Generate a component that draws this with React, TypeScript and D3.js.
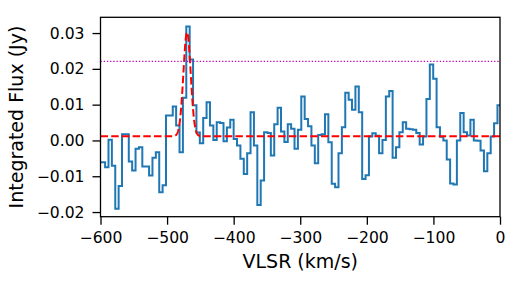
import React, { useEffect, useRef } from "react";
import * as d3 from "d3";

// spectrum: channel centres start at vStart, spaced chanWidth km/s
const vStart = -600.7;
const chanWidth = 5.08;
const flux = [
  -0.0061, -0.0061, -0.0075, 0.0002, -0.0071, -0.0191, -0.0127, 0.0017, 0.0017, -0.0059,
  -0.0084, -0.0023, -0.0019, -0.0073, -0.0073, -0.0098, -0.0048, -0.0033, -0.0145, -0.0125,
  0.0070, 0.0070, 0.0095, 0.0042, -0.0033, 0.0119, 0.0318, 0.0226, 0.0098, 0.0022,
  -0.0008, 0.0063, 0.0107, 0.0042, 0.0001, 0.0051, 0.0049, -0.0002, 0.0036, 0.0058,
  0.0004, -0.0014, -0.0051, -0.0094, -0.0036, 0.0079, -0.0014, -0.0180, -0.0112, 0.0023,
  0.0021, -0.0042, 0.0045, 0.0091, 0.0025, -0.0004, 0.0045, 0.0033, -0.0023, 0.0030,
  0.0123, 0.0060, 0.0040, -0.0014, -0.0064, 0.0015, 0.0017, 0.0073, -0.0005, -0.0121,
  -0.0131, -0.0036, 0.0037, 0.0133, 0.0114, 0.0086, 0.0151, 0.0079, -0.0108, -0.0097,
  0.0011, 0.0020, 0.0013, -0.0036, 0.0001, 0.0123, 0.0138, -0.0048, -0.0019, 0.0023,
  0.0051, 0.0033, 0.0031, 0.0030, 0.0021, -0.0011, 0.0011, 0.0116, 0.0212, 0.0172,
  0.0037, 0.0010, 0.0000, -0.0053, -0.0120, -0.0123, 0.0000, 0.0077, 0.0023, 0.0014,
  0.0058, 0.0000, -0.0001, -0.0028, -0.0086, -0.0036, 0.0011, 0.0048, 0.0098,
];

// gaussian fit (red dashed) and detection threshold (magenta dotted)
const baseline = 0.0012;
const gaussAmp = 0.029;
const gaussCenter = -470;
const gaussSigma = 5.5;
const threshold = 0.0221;

const xTicks = [-600, -500, -400, -300, -200, -100, 0];
const yTicks = [-0.02, -0.01, 0, 0.01, 0.02, 0.03];
const xDomain = [-600, 0];
const yDomain = [-0.0213, 0.0344];

const W = 517, H = 281;
const margin = { top: 17.3, right: 17, bottom: 64.3, left: 100.5 };
const FONT = "DejaVu Sans, Verdana, sans-serif";

export default function App() {
  const ref = useRef<SVGSVGElement | null>(null);

  useEffect(() => {
    const width = W - margin.left - margin.right;
    const height = H - margin.top - margin.bottom;

    const svg = d3.select(ref.current);
    svg.selectAll("*").remove();

    const x = d3.scaleLinear().domain(xDomain).range([0, width]);
    const y = d3.scaleLinear().domain(yDomain).range([height, 0]);

    svg.append("defs").append("clipPath").attr("id", "plotclip")
      .append("rect").attr("width", width).attr("height", height);

    const g = svg.append("g")
      .attr("transform", "translate(" + margin.left + "," + margin.top + ")");

    const plot = g.append("g").attr("clip-path", "url(#plotclip)");

    // step outline: each channel drawn across its full width
    const steps: [number, number][] = [];
    flux.forEach((f, i) => {
      const c = vStart + i * chanWidth;
      steps.push([c - chanWidth / 2, f]);
      steps.push([c + chanWidth / 2, f]);
    });
    const line = d3.line<[number, number]>()
      .x(d => x(d[0]))
      .y(d => y(d[1]));

    plot.append("path")
      .datum(steps)
      .attr("d", line)
      .attr("fill", "none")
      .attr("stroke", "#1f77b4")
      .attr("stroke-width", 2)
      .attr("stroke-linejoin", "miter");

    // model
    const vs = d3.range(xDomain[0], xDomain[1] + 0.25, 0.25);
    const model: [number, number][] = vs.map(v => [
      v,
      baseline + gaussAmp * Math.exp(-((v - gaussCenter) ** 2) / (2 * gaussSigma ** 2)),
    ]);
    plot.append("path")
      .datum(model)
      .attr("d", line)
      .attr("fill", "none")
      .attr("stroke", "#ff0000")
      .attr("stroke-width", 2)
      .attr("stroke-dasharray", "7.5,3.2");

    plot.append("line")
      .attr("x1", 0).attr("x2", width)
      .attr("y1", y(threshold)).attr("y2", y(threshold))
      .attr("stroke", "#bf00bf")
      .attr("stroke-width", 1.3)
      .attr("stroke-dasharray", "1.3,1.9");

    // axes
    const xAxis = g.append("g")
      .attr("transform", "translate(0," + height + ")")
      .call(d3.axisBottom(x).tickValues(xTicks).tickFormat(d3.format("d"))
        .tickSize(8).tickPadding(7).tickSizeOuter(0));
    const yAxis = g.append("g")
      .call(d3.axisLeft(y).tickValues(yTicks).tickFormat(d3.format(".2f"))
        .tickSize(8).tickPadding(8).tickSizeOuter(0));

    [xAxis, yAxis].forEach(a => {
      a.select(".domain").remove();
      a.selectAll(".tick line").attr("stroke", "#000").attr("stroke-width", 1.3);
      a.selectAll(".tick text")
        .attr("fill", "#000")
        .style("font-family", FONT)
        .style("font-size", "15.6px");
    });

    // frame
    g.append("rect")
      .attr("width", width).attr("height", height)
      .attr("fill", "none")
      .attr("stroke", "#000")
      .attr("stroke-width", 1.3);

    g.append("text")
      .attr("x", width / 2)
      .attr("y", height + 51.5)
      .attr("text-anchor", "middle")
      .style("font-family", FONT)
      .style("font-size", "19px")
      .text("VLSR (km/s)");

    g.append("text")
      .attr("transform", "translate(" + (-78) + "," + height / 2 + ") rotate(-90)")
      .attr("text-anchor", "middle")
      .style("font-family", FONT)
      .style("font-size", "19px")
      .text("Integrated Flux (Jy)");
  }, []);

  return (
    <svg
      ref={ref}
      width={W}
      height={H}
      style={{ position: "absolute", left: 0, top: 0, background: "#fff" }}
    />
  );
}
